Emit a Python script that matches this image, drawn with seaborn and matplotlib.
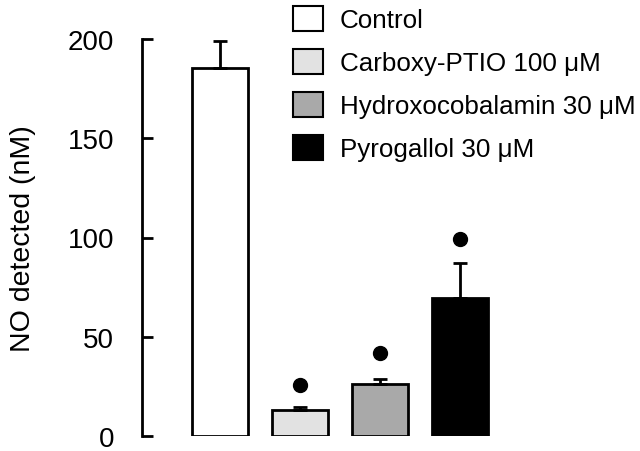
import matplotlib
matplotlib.use("Agg")
import matplotlib.pyplot as plt
import seaborn as sns
import pandas as pd

categories = ["Control", "Carboxy-PTIO 100 \u03bcM", "Hydroxocobalamin 30 \u03bcM", "Pyrogallol 30 \u03bcM"]
means = [185.5, 13.0, 26.2, 69.5]
sem = [13.5, 1.6, 2.5, 17.5]
sig_dots = [None, 25.7, 41.8, 99.0]
colors = ["#ffffff", "#e2e2e2", "#a9a9a9", "#000000"]
yticks = [0, 50, 100, 150, 200]

sns.set_theme(style="white")
plt.rcParams["font.family"] = ["Liberation Sans", "DejaVu Sans"]
plt.rcParams["text.color"] = "black"
plt.rcParams["axes.labelcolor"] = "black"
plt.rcParams["ytick.color"] = "black"

df = pd.DataFrame({"group": categories, "value": means})

fig = plt.figure(figsize=(6.4, 4.52), dpi=100)
ax = fig.add_axes([142/640, 1-437/452, (620-142)/640, (437-40)/452])

sns.barplot(data=df, x="group", y="value", hue="group", palette=colors,
            order=categories, hue_order=categories, dodge=False, width=0.69,
            edgecolor="black", linewidth=2, ax=ax, legend=True)

xs = list(range(len(categories)))
ax.errorbar(xs, means, yerr=[[0]*len(sem), sem], fmt="none", ecolor="black",
            elinewidth=2, capsize=5, capthick=2, zorder=1)
dx = [x for x, d in zip(xs, sig_dots) if d is not None]
dy = [d for d in sig_dots if d is not None]
ax.plot(dx, dy, "o", color="black", markersize=10, linestyle="none")

ax.set_ylim(0, 200)
ax.set_xlim(-0.975, 5.0)
ax.set_yticks(yticks)
ax.set_yticklabels([str(t) for t in yticks], fontsize=20, color="black")
ax.set_xticks([])
ax.set_xlabel("")
ax.set_ylabel("NO detected (nM)", fontsize=20.5, labelpad=23, color="black")
for s in ["top", "right", "bottom"]:
    ax.spines[s].set_visible(False)
ax.spines["left"].set_color("black")
ax.spines["left"].set_linewidth(2)
ax.tick_params(axis="y", direction="in", length=8, width=2, color="black", left=True, pad=20)

leg = ax.legend(loc="upper left", bbox_to_anchor=(293/640, 1-7/452), bbox_transform=fig.transFigure,
                frameon=False, fontsize=18.7, handlelength=1.15, handleheight=1.08,
                labelspacing=0.65, handletextpad=0.65, borderpad=0, borderaxespad=0)
for t in leg.get_texts():
    t.set_color("black")
for h in leg.legend_handles:
    h.set_edgecolor("black")
    h.set_linewidth(1.5)

fig.savefig("out.png", dpi=100)
